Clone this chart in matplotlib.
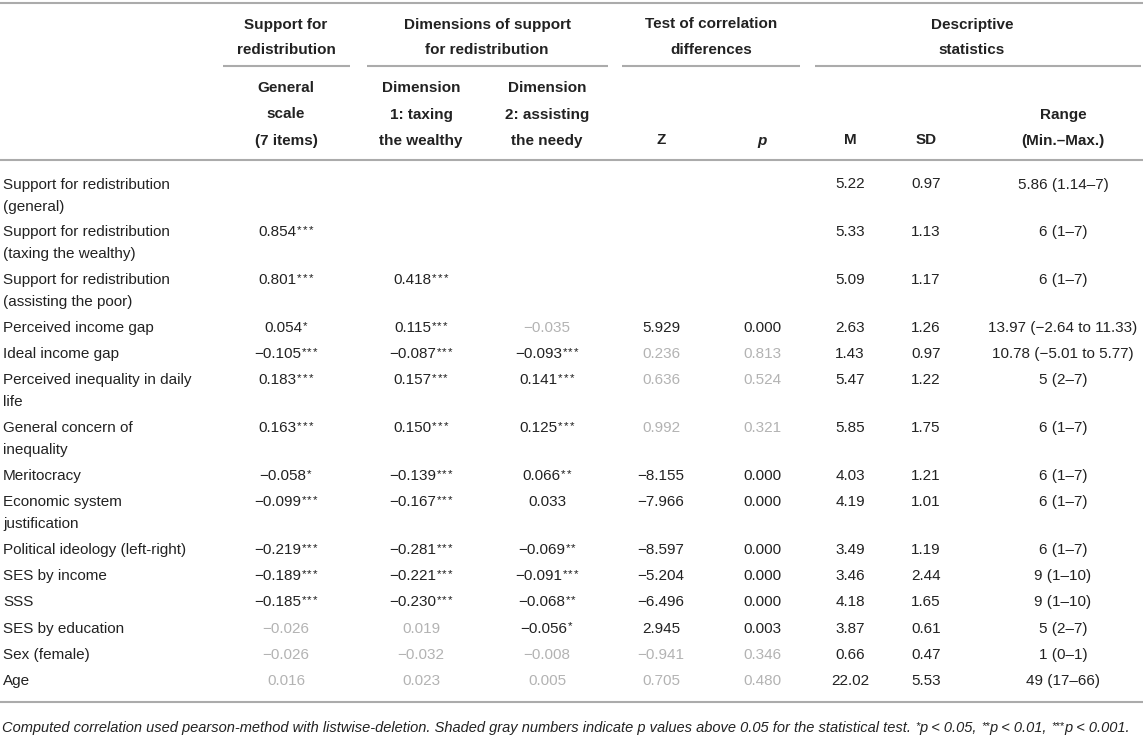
import matplotlib
matplotlib.use("Agg")
import matplotlib.pyplot as plt

plt.rcParams['font.family'] = ['Liberation Sans', 'DejaVu Sans']

# ---------------- data ----------------
row_labels = [
    ["Support for redistribution", "(general)"],
    ["Support for redistribution", "(taxing the wealthy)"],
    ["Support for redistribution", "(assisting the poor)"],
    ["Perceived income gap"],
    ["Ideal income gap"],
    ["Perceived inequality in daily", "life"],
    ["General concern of", "inequality"],
    ["Meritocracy"],
    ["Economic system", "justification"],
    ["Political ideology (left-right)"],
    ["SES by income"],
    ["SSS"],
    ["SES by education"],
    ["Sex (female)"],
    ["Age"],
]
general_scale = ["", "0.854***", "0.801***", "0.054*", "−0.105***", "0.183***", "0.163***",
                 "−0.058*", "−0.099***", "−0.219***", "−0.189***", "−0.185***",
                 "−0.026", "−0.026", "0.016"]
dim1_taxing = ["", "", "0.418***", "0.115***", "−0.087***", "0.157***", "0.150***",
               "−0.139***", "−0.167***", "−0.281***", "−0.221***", "−0.230***",
               "0.019", "−0.032", "0.023"]
dim2_assisting = ["", "", "", "−0.035", "−0.093***", "0.141***", "0.125***",
                  "0.066**", "0.033", "−0.069**", "−0.091***", "−0.068**",
                  "−0.056*", "−0.008", "0.005"]
z_values = ["", "", "", "5.929", "0.236", "0.636", "0.992", "−8.155", "−7.966",
            "−8.597", "−5.204", "−6.496", "2.945", "−0.941", "0.705"]
p_values = ["", "", "", "0.000", "0.813", "0.524", "0.321", "0.000", "0.000",
            "0.000", "0.000", "0.000", "0.003", "0.346", "0.480"]
means = ["5.22", "5.33", "5.09", "2.63", "1.43", "5.47", "5.85", "4.03", "4.19",
         "3.49", "3.46", "4.18", "3.87", "0.66", "22.02"]
sds = ["0.97", "1.13", "1.17", "1.26", "0.97", "1.22", "1.75", "1.21", "1.01",
       "1.19", "2.44", "1.65", "0.61", "0.47", "5.53"]
ranges = ["5.86 (1.14–7)", "6 (1–7)", "6 (1–7)", "13.97 (−2.64 to 11.33)",
          "10.78 (−5.01 to 5.77)", "5 (2–7)", "6 (1–7)", "6 (1–7)", "6 (1–7)",
          "6 (1–7)", "9 (1–10)", "9 (1–10)", "5 (2–7)", "1 (0–1)", "49 (17–66)"]
# rows whose value is not significant (p > 0.05), shown shaded gray
nonsig_general = [12, 13, 14]
nonsig_dim1 = [12, 13, 14]
nonsig_dim2 = [3, 13, 14]
nonsig_test = [4, 5, 6, 13, 14]

group_headers = [["Support for", "redistribution"],
                 ["Dimensions of support", "for redistribution"],
                 ["Test of correlation", "differences"],
                 ["Descriptive", "statistics"]]
sub_headers = [["General", "scale", "(7 items)"],
               ["Dimension", "1: taxing", "the wealthy"],
               ["Dimension", "2: assisting", "the needy"],
               ["Z"], ["p"], ["M"], ["SD"], ["Range", "(Min.–Max.)"]]
footnote_parts = [
    ("Computed correlation used pearson-method with listwise-deletion. Shaded gray numbers "
     "indicate p values above 0.05 for the statistical test. ", False),
    ("*", True), ("p < 0.05, ", False), ("**", True), ("p < 0.01, ", False),
    ("***", True), ("p < 0.001.", False)]

# ---------------- layout ----------------
W, H = 1143, 736
fig = plt.figure(figsize=(W / 100, H / 100), dpi=100)
ax = fig.add_axes([0, 0, 1, 1])
ax.set_xlim(0, W)
ax.set_ylim(H, 0)
ax.axis('off')
renderer = fig.canvas.get_renderer()

FS = 11.0          # points
FSPX = FS * 100 / 72
TXT = '#222222'
GRAY = '#b3b3b3'
LINE = '#ababab'
LW = 1.5
STAR_FS = FS * 0.75
STAR_PITCH = 5.6

col_x = [286, 421, 547, 661, 762, 850, 926, 1063]
group_centers = [286, 487, 711, 972]
group_spans = [(223, 350), (367, 608), (622, 800), (815, 1141)]


def base(y, size=FSPX):
    return y + 0.36 * size


def text_width(s, **kw):
    t = ax.text(0, 0, s, **kw)
    w = t.get_window_extent(renderer).width
    t.remove()
    return w


def cell(cx, y, s, color):
    if not s:
        return
    num = s.rstrip('*')
    stars = s[len(num):]
    w_num = text_width(num, fontsize=FS)
    w_star = STAR_PITCH * len(stars)
    left = cx - (w_num + w_star) / 2
    ax.text(left, base(y), num, fontsize=FS, color=color, ha='left', va='baseline')
    for k in range(len(stars)):
        ax.text(left + w_num + 0.5 + STAR_PITCH * k, base(y) - 3.0, '*', fontsize=STAR_FS,
                color=color, ha='left', va='baseline')


# horizontal rules
ax.hlines(3, 0, W, color=LINE, lw=LW)
for a, b in group_spans:
    ax.hlines(66, a, b, color=LINE, lw=LW)
ax.hlines(160, 0, W, color=LINE, lw=LW)
ax.hlines(702, 0, W, color=LINE, lw=LW)

# header text
for cx, lines in zip(group_centers, group_headers):
    for k, ln in enumerate(lines):
        ax.text(cx, base(23 + 26 * k), ln, fontsize=FS, fontweight='bold', color=TXT,
                ha='center', va='baseline')
for cx, lines in zip(col_x, sub_headers):
    n = len(lines)
    for k, ln in enumerate(lines):
        y = 139 - 26 * (n - 1 - k)
        style = 'italic' if ln == 'p' else 'normal'
        ax.text(cx, base(y), ln, fontsize=FS, fontweight='bold', fontstyle=style,
                color=TXT, ha='center', va='baseline')

# body
columns = [(general_scale, nonsig_general), (dim1_taxing, nonsig_dim1),
           (dim2_assisting, nonsig_dim2), (z_values, nonsig_test),
           (p_values, nonsig_test), (means, []), (sds, []), (ranges, [])]
y = 183.0
for i, lab in enumerate(row_labels):
    for k, ln in enumerate(lab):
        ax.text(3, base(y + 22 * k), ln, fontsize=FS, color=TXT, ha='left', va='baseline')
    for cx, (vals, nonsig) in zip(col_x, columns):
        cell(cx, y, vals[i], GRAY if i in nonsig else TXT)
    y += 47.8 if len(lab) > 1 else 26.2

# footnote (fit to table width)
FN = 9.6
total = sum(text_width(s, fontsize=FN * (0.75 if sup else 1), fontstyle='italic')
            for s, sup in footnote_parts)
FN = FN * 1138 / total
x = 2
for s, sup in footnote_parts:
    fs = FN * (0.75 if sup else 1)
    yy = base(727, FN * 100 / 72) - (3 if sup else 0)
    t = ax.text(x, yy, s, fontsize=fs, fontstyle='italic', color=TXT, ha='left', va='baseline')
    x += t.get_window_extent(renderer).width

fig.savefig('out.png', dpi=100, facecolor='white')
